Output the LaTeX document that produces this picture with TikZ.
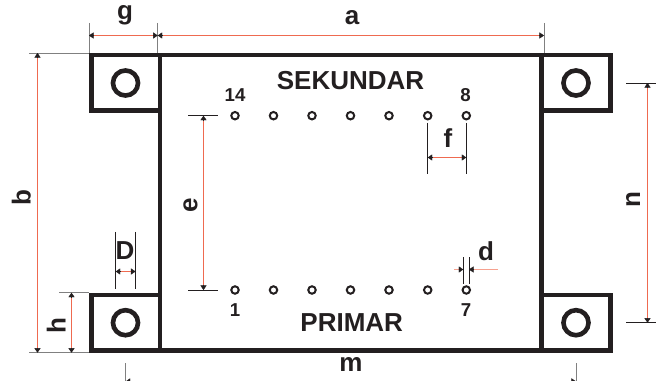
\documentclass[tikz,border=0pt]{standalone}
\usepackage{fontspec}
\setmainfont{Liberation Sans}
\usetikzlibrary{arrows.meta,calc}
\definecolor{ink}{HTML}{231F20}
\definecolor{linered}{HTML}{EF6A50}
\definecolor{softred}{HTML}{F6A18F}
\definecolor{extgray}{HTML}{808080}
% plain red line first, then a short black piece with the tip at each end
\newcommand{\dimarrow}[2]{%
  \draw[redline] (#1) -- (#2);
  \draw[tipend] ($(#1)!3.4pt!(#2)$) -- (#1);
  \draw[tipend] ($(#2)!3.4pt!(#1)$) -- (#2);
}

\begin{document}
\begin{tikzpicture}[
    x=0.75pt, y=-0.75pt,
    >={Triangle[length=3.4pt,width=4.6pt]},
    body/.style = {draw=ink, line width=3.45pt, miter limit=10},
    hole/.style = {circle, draw=ink, line width=3.45pt, minimum size=18.8pt, inner sep=0pt},
    pin/.style = {circle, draw=ink, line width=1.5pt, minimum size=5.6pt, inner sep=0pt},
    redline/.style = {draw=linered, line width=0.75pt, shorten >=2pt, shorten <=2pt},
    redsoft/.style = {draw=softred, line width=0.95pt, shorten >=2pt},
    tipend/.style = {->, draw=ink, line width=0.3pt},
    ext/.style = {draw=ink, line width=0.55pt},
    extg/.style = {draw=extgray, line width=0.7pt},
    lbl/.style = {anchor=base, text=ink, font=\bfseries\fontsize{19.5}{20}\selectfont, inner sep=0pt},
    num/.style = {anchor=base, text=ink, font=\bfseries\fontsize{14}{15}\selectfont, inner sep=0pt}
]
\clip (0, 0) rectangle (657, 381);
\useasboundingbox (0, 0) rectangle (657, 381);

% Body and lugs
\draw[body] (160, 55) rectangle (541.3, 350.5);
\draw[body] (160, 55) rectangle (91.5, 110.7);
\draw[body] (541.3, 55) rectangle (610.5, 110.7);
\draw[body] (160, 295) rectangle (91.5, 350.5);
\draw[body] (541.3, 295) rectangle (610.5, 350.5);

% Mounting holes
\node[hole] at (125.5, 83) (h1) {};
\node[hole] at (576, 83) (h2) {};
\node[hole] at (125.5, 322.7) (h3) {};
\node[hole] at (576, 322.7) (h4) {};

% Pins
\node[pin] at (235, 115.7) (p14) {};
\node[pin] at (273.5, 115.7) (p13) {};
\node[pin] at (312, 115.7) (p12) {};
\node[pin] at (350.5, 115.7) (p11) {};
\node[pin] at (389, 115.7) (p10) {};
\node[pin] at (427.7, 115.7) (p9) {};
\node[pin] at (466.3, 115.7) (p8) {};
\node[pin] at (235, 290) (p1) {};
\node[pin] at (273.5, 290) (p2) {};
\node[pin] at (312, 290) (p3) {};
\node[pin] at (350.5, 290) (p4) {};
\node[pin] at (389, 290) (p5) {};
\node[pin] at (427.7, 290) (p6) {};
\node[pin] at (466.3, 290) (p7) {};

% Texts
\node[lbl] at (350.5, 90) (sek) {SEKUNDAR};
\node[lbl] at (351.7, 331.7) (pri) {PRIMAR};
\node[num] at (235, 101.7) (n14) {14};
\node[num] at (465.5, 101.7) (n8) {8};
\node[num] at (235, 316.7) (n1) {1};
\node[num] at (466, 316.7) (n7) {7};
\node[lbl] at (125, 20) (lg) {g};
\node[lbl] at (352, 25) (la) {a};
\node[lbl] at (448, 148) (lf) {f};
\node[lbl] at (486, 260) (ld) {d};
\node[lbl] at (125, 259) (lD) {D};
\node[lbl] at (351, 371.7) (lm) {m};
\node[lbl, rotate=90] at (30.7, 198) (lb) {b};
\node[lbl, rotate=90] at (197.3, 205) (le) {e};
\node[lbl, rotate=90] at (65.7, 326) (lh) {h};
\node[lbl, rotate=90] at (640, 200) (ln) {n};

% Ends of the dimension lines
\coordinate (g1) at (89, 35.5);
\coordinate (g2) at (157.7, 35.5);
\coordinate (a1) at (157.7, 35.5);
\coordinate (a2) at (544, 35.5);
\coordinate (b1) at (37.5, 53);
\coordinate (b2) at (37.5, 352.7);
\coordinate (h1t) at (71.5, 292.7);
\coordinate (h1b) at (71.5, 352.7);
\coordinate (e1) at (203.5, 115.7);
\coordinate (e2) at (203.5, 290);
\coordinate (D1) at (115.7, 271.5);
\coordinate (D2) at (135.5, 271.5);
\coordinate (f1) at (427.7, 157.5);
\coordinate (f2) at (466.3, 157.5);
\coordinate (d1) at (454, 269.5);
\coordinate (d2) at (463.3, 269.5);
\coordinate (d3) at (469, 269.5);
\coordinate (d4) at (498, 269.5);
\coordinate (n1t) at (647.5, 83);
\coordinate (n1b) at (647.5, 322.7);
\coordinate (m1) at (125.7, 381.4);
\coordinate (m2) at (576, 381.4);

% Extension lines
\draw[extg] (89, 23) -- (89, 53);
\draw[extg] (157.7, 23) -- (157.7, 53);
\draw[extg] (544, 23) -- (544, 53);
\draw[extg] (29, 53) -- (89, 53);
\draw[extg] (29, 352.7) -- (89, 352.7);
\draw[extg] (59, 292.7) -- (89, 292.7);
\draw[ext] (188, 115.7) -- (218, 115.7);
\draw[ext] (188, 290) -- (218, 290);
\draw[ext] (115.7, 232) -- (115.7, 289);
\draw[ext] (135.5, 232) -- (135.5, 289);
\draw[ext] (427.7, 123) -- (427.7, 174);
\draw[ext] (466.3, 123) -- (466.3, 174);
\draw[ext] (463.3, 257) -- (463.3, 284);
\draw[ext] (469, 257) -- (469, 284);
\draw[ext] (626, 83) -- (656, 83);
\draw[ext] (626, 322.7) -- (656, 322.7);
\draw[extg] (125.7, 363) -- (125.7, 381);
\draw[extg] (576, 363) -- (576, 381);

% Dimension lines
\dimarrow{g1}{g2}
\dimarrow{a1}{a2}
\dimarrow{b1}{b2}
\dimarrow{h1t}{h1b}
\dimarrow{e1}{e2}
\dimarrow{D1}{D2}
\dimarrow{f1}{f2}
\dimarrow{n1t}{n1b}
\dimarrow{m1}{m2}

\draw[redsoft] (d1) -- (d2);
\draw[redsoft] (d4) -- (d3);
\draw[tipend] ($(d2)!3.4pt!(d1)$) -- (d2);
\draw[tipend] ($(d3)!3.4pt!(d4)$) -- (d3);

\end{tikzpicture}
\end{document}
